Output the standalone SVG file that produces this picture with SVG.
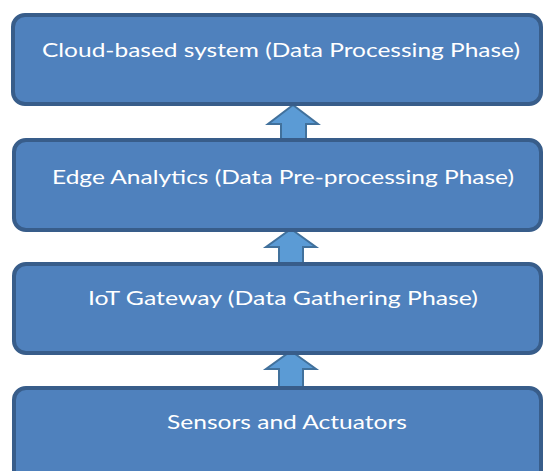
<svg xmlns="http://www.w3.org/2000/svg" width="544" height="471" viewBox="0 0 544 471">
<style>
.box{fill:#4f81bd;stroke:#385d8a;stroke-width:4}
.lbl{fill:#ffffff;font-family:Lato,"Open Sans","Liberation Sans",sans-serif;font-size:20px;text-anchor:middle}
.arr{fill:#5b9bd5;stroke:#41719c;stroke-width:2;stroke-linejoin:miter}
</style>
<rect width="544" height="471" fill="#ffffff"/>
<g id="connectors">
<path class="arr" d="M293,105 L318,124 L306,124 L306,140 L281,140 L281,124 L268,124 Z"/>
<path class="arr" d="M291,229 L316,247 L303,247 L303,263 L279,263 L279,247 L266,247 Z"/>
<path class="arr" d="M291,351 L316,369 L303,369 L303,387 L279,387 L279,369 L266,369 Z"/>
</g>
<g id="node-cloud">
<rect class="box" x="13" y="15" width="528" height="89" rx="12"/>
<text class="lbl" x="281" y="57" textLength="478" lengthAdjust="spacingAndGlyphs">Cloud-based system (Data Processing Phase)</text>
</g>
<g id="node-edge">
<rect class="box" x="14" y="140" width="527" height="90" rx="12"/>
<text class="lbl" x="283" y="184" textLength="462" lengthAdjust="spacingAndGlyphs">Edge Analytics (Data Pre-processing Phase)</text>
</g>
<g id="node-gateway">
<rect class="box" x="14" y="264" width="527" height="89" rx="12"/>
<text class="lbl" x="283" y="305" textLength="390" lengthAdjust="spacingAndGlyphs">IoT Gateway (Data Gathering Phase)</text>
</g>
<g id="node-sensors">
<rect class="box" x="14" y="388" width="527" height="95" rx="12"/>
<text class="lbl" x="287" y="429" textLength="240" lengthAdjust="spacingAndGlyphs">Sensors and Actuators</text>
</g>
</svg>
